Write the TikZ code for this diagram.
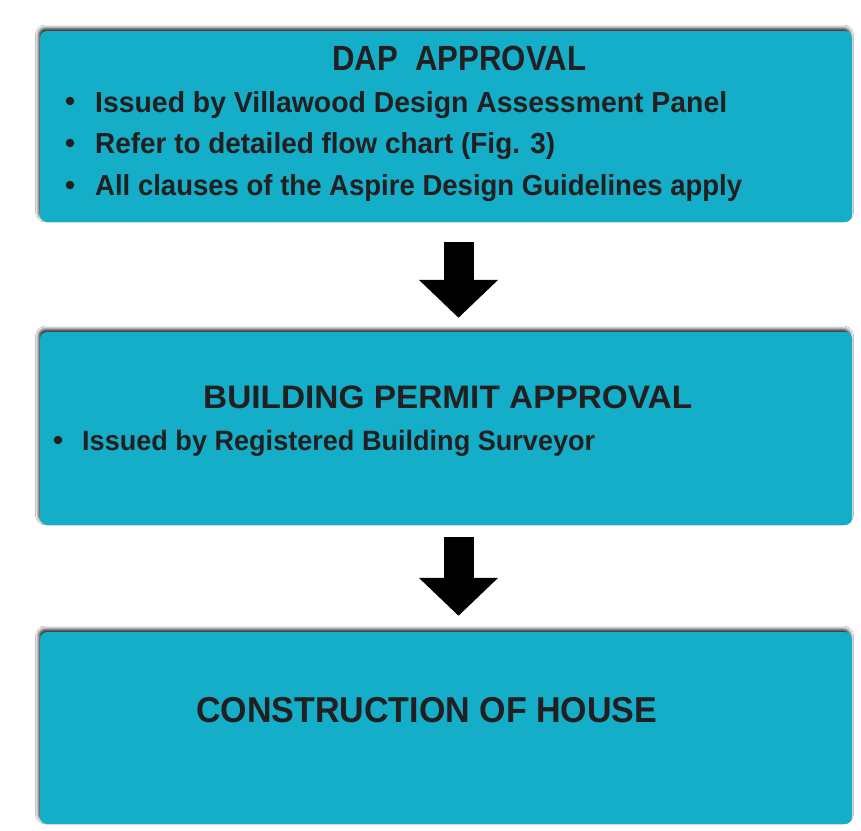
\documentclass[tikz,border=0pt]{standalone}
\usepackage{fontspec}
\setmainfont{Liberation Sans}
\usetikzlibrary{arrows.meta,shadows.blur}
\definecolor{boxteal}{HTML}{14AEC8}
\definecolor{ink}{HTML}{231F20}
\newsavebox\fitbox
\newcommand\fitw[2]{\sbox\fitbox{#2}\pgfmathsetmacro\fitfac{#1/\the\wd\fitbox}\scalebox{\fitfac}[1]{\usebox\fitbox}}
\tikzset{
  stagebox/.style={rectangle, rounded corners=7pt, fill=boxteal, draw=none,
    minimum width=812pt, inner sep=0pt,
    blur shadow={shadow xshift=-1.5pt, shadow yshift=3pt, shadow blur radius=3pt, shadow opacity=80}},
  label/.style={anchor=base west, inner sep=0pt, text=ink, font=\bfseries},
  bulletdot/.style={circle, fill=ink, minimum size=8.5pt, inner sep=0pt},
  bigarrow/.style={line width=30pt, -{Triangle[width=77pt,length=38pt]}, draw=black}
}
\begin{document}
\begin{tikzpicture}[x=1pt,y=-1pt]
\useasboundingbox (0,0) rectangle (861,830);
\fill[white] (0,0) rectangle (861,830);
% boxes
\node[stagebox, minimum height=191pt] (b1) at (446,126.5) {};
\node[stagebox, minimum height=193pt] (b2) at (446,428.5) {};
\node[stagebox, minimum height=192pt] (b3) at (446,728) {};
% box 1 texts
\node[label, font=\bfseries\fontsize{35}{40}\selectfont] (t1) at (332,70) {\fitw{254}{DAP\ \ APPROVAL}};
\node[bulletdot] (d1) at (70,101) {};
\node[bulletdot] (d2) at (70,143) {};
\node[bulletdot] (d3) at (70,185) {};
\node[label, font=\bfseries\fontsize{29}{34}\selectfont] (l1) at (95,112) {\fitw{632}{Issued by Villawood Design Assessment Panel}};
\node[label, font=\bfseries\fontsize{29}{34}\selectfont] (l2) at (95,153) {\fitw{460}{Refer to detailed flow chart (Fig. 3)}};
\node[label, font=\bfseries\fontsize{29}{34}\selectfont] (l3) at (95,195) {\fitw{647}{All clauses of the Aspire Design Guidelines apply}};
% box 2 texts
\node[label, font=\bfseries\fontsize{32.5}{38}\selectfont] (t2) at (203,408) {\fitw{489}{BUILDING PERMIT APPROVAL}};
\node[bulletdot] (d4) at (58,440) {};
\node[label, font=\bfseries\fontsize{28}{33}\selectfont] (l4) at (82,450) {\fitw{513}{Issued by Registered Building Surveyor}};
% box 3 text
\node[label, font=\bfseries\fontsize{36}{42}\selectfont] (t3) at (196,722) {\fitw{461}{CONSTRUCTION OF HOUSE}};
% arrows
\draw[bigarrow, shorten <=20pt, shorten >=14pt] ([xshift=12.5pt]b1.south) -- ([xshift=12.5pt]b2.north);
\draw[bigarrow, shorten <=12pt, shorten >=16pt] ([xshift=12.5pt]b2.south) -- ([xshift=12.5pt]b3.north);
\end{tikzpicture}
\end{document}
